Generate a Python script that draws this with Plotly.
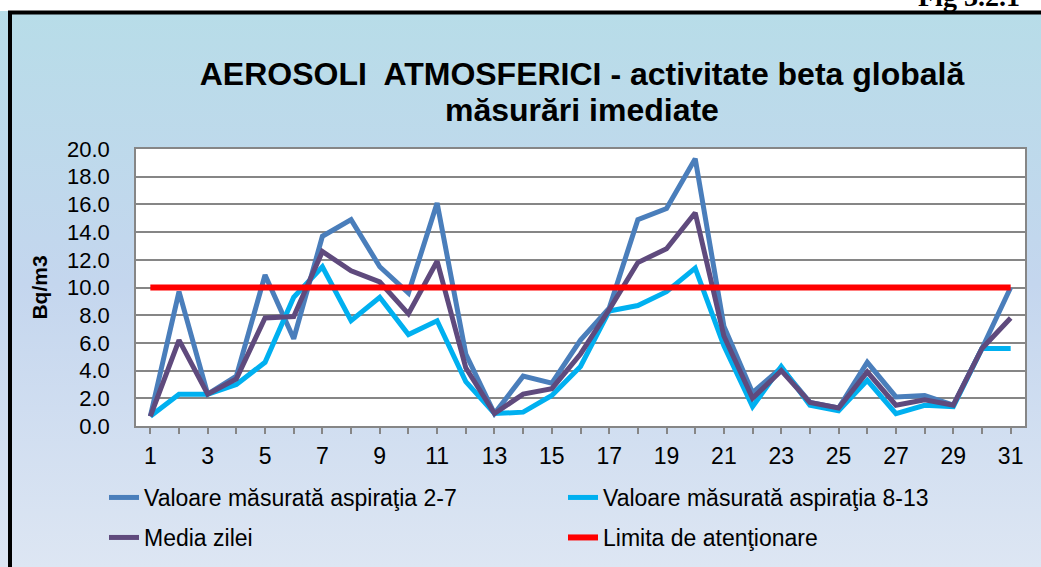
import base64
import plotly.graph_objects as go

days = list(range(1, 32))
asp_2_7 = [0.7, 9.7, 2.3, 3.6, 10.9, 6.3, 13.7, 14.9, 11.5, 9.6,
           16.1, 5.2, 0.9, 3.6, 3.1, 6.2, 8.5, 14.9, 15.7, 19.3,
           7.2, 2.4, 4.2, 1.7, 1.3, 4.6, 2.1, 2.2, 1.5, 5.6, 10.0]
asp_8_13 = [0.7, 2.3, 2.3, 3.0, 4.6, 9.3, 11.5, 7.6, 9.3, 6.6,
            7.6, 3.2, 0.9, 1.0, 2.2, 4.3, 8.3, 8.7, 9.7, 11.4,
            5.8, 1.4, 4.3, 1.5, 1.1, 3.3, 0.9, 1.5, 1.4, 5.6, 5.6]
media = [0.7, 6.2, 2.3, 3.4, 7.8, 7.9, 12.6, 11.2, 10.4, 8.1,
         11.9, 4.2, 0.9, 2.3, 2.7, 5.2, 8.4, 11.8, 12.8, 15.4,
         6.5, 2.0, 4.0, 1.7, 1.3, 3.9, 1.5, 1.9, 1.5, 5.6, 7.8]
limita = [10.0] * 31

x_tickvals = days
x_ticktext = [str(d) if d % 2 == 1 else "" for d in days]
y_tickvals = [0, 2, 4, 6, 8, 10, 12, 14, 16, 18, 20]

title_line1 = "<b>AEROSOLI  ATMOSFERICI - activitate beta globală</b>"
title_line2 = "<b>măsurări imediate</b>"

W, H = 1041, 567
L, R, T, B = 136, 1025, 149, 426
pw, ph = R - L, B - T

def px(xp):
    return (xp - L) / pw

def py(yp):
    return (B - yp) / ph

FONT = "Liberation Sans, Arial, sans-serif"

svg = ('<svg xmlns="http://www.w3.org/2000/svg" width="100" height="100" preserveAspectRatio="none">'
       '<defs><linearGradient id="g" x1="0" y1="0" x2="0" y2="1">'
       '<stop offset="0" stop-color="#b7dde8"/>'
       '<stop offset="0.5" stop-color="#c4d6ee"/>'
       '<stop offset="1" stop-color="#dde6f3"/>'
       '</linearGradient></defs>'
       '<rect width="100" height="100" fill="url(#g)"/></svg>')
svg_uri = "data:image/svg+xml;base64," + base64.b64encode(svg.encode()).decode()

fig = go.Figure()
fig.add_trace(go.Scatter(x=days, y=asp_2_7, mode="lines", name="Valoare măsurată aspiraţia 2-7",
                         line=dict(color="#4a7ebb", width=5), legend="legend"))
fig.add_trace(go.Scatter(x=days, y=asp_8_13, mode="lines", name="Valoare măsurată aspiraţia 8-13",
                         line=dict(color="#00b0f0", width=5), legend="legend"))
fig.add_trace(go.Scatter(x=days, y=media, mode="lines", name="Media zilei",
                         line=dict(color="#5f4a7d", width=5), legend="legend2"))
fig.add_trace(go.Scatter(x=days, y=limita, mode="lines", name="Limita de atenţionare",
                         line=dict(color="#ff0000", width=6), legend="legend2"))

fig.update_layout(
    width=W, height=H,
    margin=dict(l=L, r=W - R, t=T, b=H - B, autoexpand=False),
    paper_bgcolor="#dde6f3",
    plot_bgcolor="white",
    font=dict(family=FONT, color="black", size=22),
    title=dict(text=title_line1,
               x=px(582), xref="paper", xanchor="center",
               y=1 - 74 / H, yref="container", yanchor="middle",
               font=dict(size=32, family=FONT)),
    xaxis=dict(range=[0.5, 31.5], tickvals=x_tickvals, ticktext=x_ticktext,
               ticks="outside", ticklen=6, tickcolor="#868686", tickwidth=1.5,
               showgrid=False, showline=True, linecolor="#868686", linewidth=1.5, mirror=True,
               tickfont=dict(size=23), zeroline=False, ticklabelstandoff=3, automargin=False),
    yaxis=dict(range=[0, 20], tickvals=y_tickvals, tickformat=".1f",
               showgrid=True, gridcolor="#868686", gridwidth=1.5,
               showline=True, linecolor="#868686", linewidth=1.5, mirror=True,
               ticks="", ticklabelstandoff=20, zeroline=False, automargin=False,
               tickfont=dict(size=22),
               title=dict(text="<b>Bq/m3</b>", font=dict(size=21), standoff=14)),
    legend=dict(orientation="h", x=px(104), y=py(476), xanchor="left", yanchor="top",
                entrywidth=414, entrywidthmode="pixels", bgcolor="rgba(0,0,0,0)",
                font=dict(size=23), traceorder="normal"),
    legend2=dict(orientation="h", x=px(104), y=py(516), xanchor="left", yanchor="top",
                 entrywidth=414, entrywidthmode="pixels", bgcolor="rgba(0,0,0,0)",
                 font=dict(size=23), traceorder="normal"),
    showlegend=True,
)

fig.add_annotation(text=title_line2, xref="paper", yref="paper",
                   x=px(582), y=py(110), xanchor="center", yanchor="middle",
                   showarrow=False, font=dict(size=32, family=FONT))

fig.add_layout_image(dict(source=svg_uri, xref="paper", yref="paper",
                          x=px(0), y=py(0), sizex=W / pw, sizey=H / ph,
                          xanchor="left", yanchor="top", sizing="stretch", layer="below"))

# white plot area over the gradient
fig.add_shape(type="rect", xref="paper", yref="paper", x0=0, x1=1, y0=0, y1=1,
              line=dict(width=0), fillcolor="white", layer="below")

# frame
fig.add_shape(type="rect", xref="paper", yref="paper",
              x0=px(10), x1=px(1060), y0=py(12.5), y1=py(600),
              line=dict(color="black", width=4), fillcolor="rgba(0,0,0,0)", layer="above")
# white strip above frame
fig.add_shape(type="rect", xref="paper", yref="paper",
              x0=px(-5), x1=px(1060), y0=py(-5), y1=py(11),
              line=dict(width=0), fillcolor="white", layer="below")

fig.add_annotation(text="<b>Fig 3.2.1</b>", xref="paper", yref="paper",
                   x=px(916), y=py(14), xanchor="left", yanchor="bottom",
                   showarrow=False, font=dict(family="Liberation Serif, Times New Roman, serif", size=28))

fig.write_html("out.html", config={"displayModeBar": False},
               post_script="document.body.style.margin='0';document.body.style.overflow='hidden';")
